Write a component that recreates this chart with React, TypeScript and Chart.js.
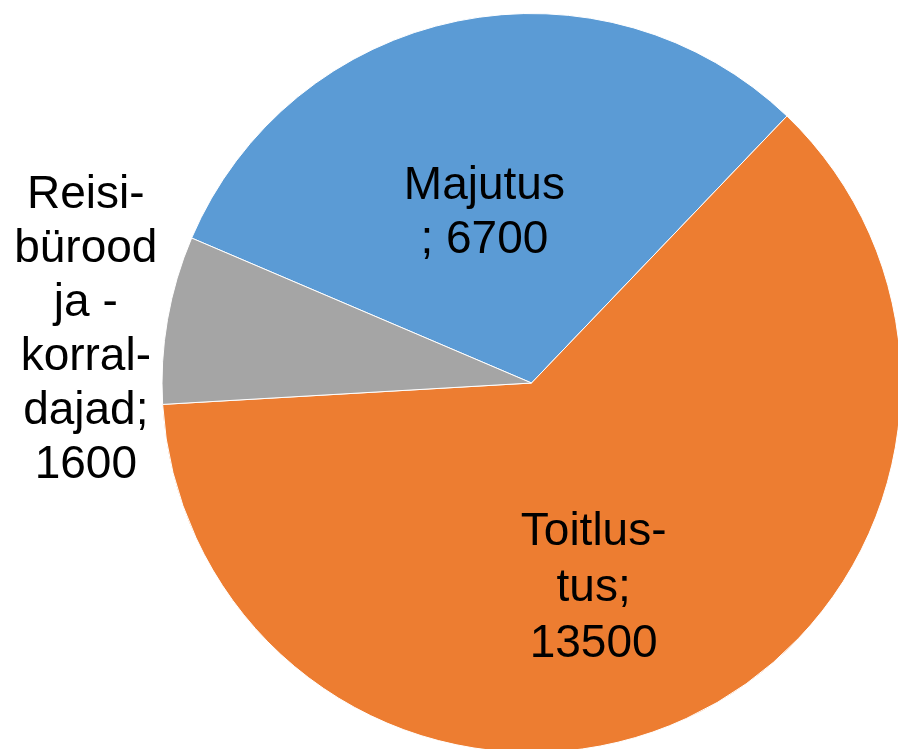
import React, { useEffect, useRef } from "react";
import { Chart, registerables } from "chart.js";

Chart.register(...registerables);

const categories = ["Majutus", "Toitlustus", "Reisibürood ja -korraldajad"];
const values = [6700, 13500, 1600];
const colors = ["#5B9BD5", "#ED7D31", "#A5A5A5"];
const labelLines = [
  ["Majutus", "; 6700"],
  ["Toitlus-", "tus;", "13500"],
  ["Reisi-", "bürood", "ja -", "korral-", "dajad;", "1600"],
];
// label anchor (polar, relative to pie centre): radius factor & angle in degrees
const labelRadius = [0.444, 0.614, 1.211];
const labelAngle = [-106.7, 74.1, 185.1];
const lineHeights = [54, 56, 54];

const labelPlugin = {
  id: "sliceLabels",
  afterDatasetsDraw(chart: any) {
    const ctx = chart.ctx;
    const meta = chart.getDatasetMeta(0);
    ctx.save();
    ctx.font = "46px 'Liberation Sans', Arial, sans-serif";
    ctx.fillStyle = "#000000";
    ctx.textAlign = "center";
    ctx.textBaseline = "alphabetic";
    meta.data.forEach((arc: any, i: number) => {
      const r = arc.outerRadius * labelRadius[i];
      const a = (labelAngle[i] * Math.PI) / 180;
      const cx = arc.x + r * Math.cos(a);
      const cy = arc.y + r * Math.sin(a);
      const lines = labelLines[i];
      const lh = lineHeights[i];
      lines.forEach((t, j) => {
        ctx.fillText(t, cx, cy + (j - (lines.length - 1) / 2) * lh);
      });
    });
    ctx.restore();
  },
};

export default function App() {
  const ref = useRef<HTMLCanvasElement>(null);
  useEffect(() => {
    document.body.style.margin = "0";
    const chart = new Chart(ref.current!, {
      type: "pie",
      data: {
        labels: categories,
        datasets: [
          {
            data: values,
            backgroundColor: colors,
            borderColor: "#ffffff",
            borderWidth: 1,
          },
        ],
      },
      options: {
        responsive: false,
        animation: false,
        rotation: -66.9,
        layout: { padding: { left: 161.5, right: 8.5, top: 13, bottom: 17 } },
        plugins: {
          legend: { display: false },
          tooltip: { enabled: false },
        },
      },
      plugins: [labelPlugin],
    });
    return () => chart.destroy();
  }, []);
  return (
    <div style={{ position: "absolute", left: 0, top: 0, width: 898, height: 749, overflow: "hidden", background: "#fff" }}>
      <canvas ref={ref} width={910} height={770} style={{ display: "block" }} />
    </div>
  );
}
